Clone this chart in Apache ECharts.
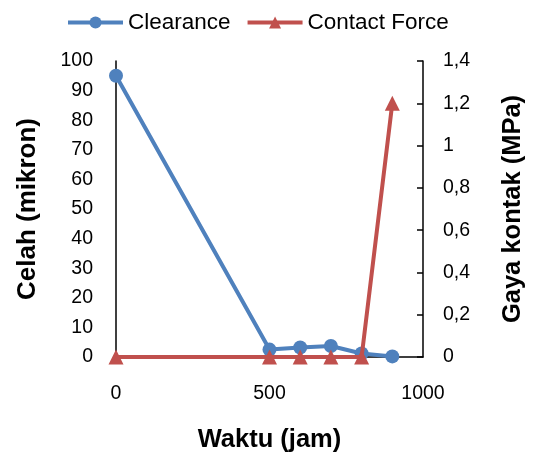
<!DOCTYPE html>
<html>
<head>
<meta charset="utf-8">
<script src="https://cdn.jsdelivr.net/npm/echarts@6/dist/echarts.min.js"></script>
<style>
  html, body { margin: 0; padding: 0; background: #fff; }
  #chart { width: 536px; height: 454px; }
</style>
</head>
<body>
<div id="chart"></div>
<script>
// Data
const hours = [0, 500, 600, 700, 800, 900];
const clearance = [95, 2.5, 3.2, 3.7, 1.2, 0.2];
const contactForce = [0, 0, 0, 0, 0, 1.2];

const font = '"Liberation Sans", Arial, sans-serif';
const blue = '#4f81bd';
const red = '#c0504d';

const chart = echarts.init(document.getElementById('chart'));

chart.setOption({
  animation: false,
  textStyle: { fontFamily: font },
  legend: {
    top: 6,
    left: 61,
    itemWidth: 55,
    itemHeight: 15,
    itemGap: 15,
    lineStyle: { width: 4 },
    textStyle: { fontSize: 22.5, color: '#000', fontFamily: font },
    data: ['Clearance', 'Contact Force']
  },
  // keep the plot box fixed, even if names spill near the edge
  grid: { left: 116, right: 113, top: 61, bottom: 97, outerBoundsMode: 'none', containLabel: false },
  xAxis: {
    type: 'value',
    min: 0,
    max: 1000,
    interval: 500,
    name: 'Waktu (jam)',
    nameLocation: 'middle',
    nameGap: 70,
    nameTextStyle: { fontSize: 25.5, fontWeight: 'bold', color: '#000', fontFamily: font },
    axisLine: { lineStyle: { color: '#000', width: 1.5 } },
    axisTick: { show: false },
    axisLabel: { fontSize: 19.5, color: '#000', margin: 27, fontFamily: font, formatter: v => String(v) },
    splitLine: { show: false }
  },
  yAxis: [
    {
      type: 'value',
      min: 0,
      max: 100,
      interval: 10,
      name: 'Celah (mikron)',
      nameLocation: 'middle',
      nameGap: 75,
      nameTextStyle: { fontSize: 26, fontWeight: 'bold', color: '#000', fontFamily: font },
      axisLine: { show: true, lineStyle: { color: '#000', width: 1.5 } },
      axisTick: { show: false },
      axisLabel: { fontSize: 19.5, color: '#000', margin: 23, fontFamily: font },
      splitLine: { show: false }
    },
    {
      type: 'value',
      min: 0,
      max: 1.4,
      interval: 0.2,
      position: 'right',
      name: 'Gaya kontak (MPa)',
      nameLocation: 'middle',
      nameGap: 77,
      nameRotate: 90,
      nameTextStyle: { fontSize: 25.5, fontWeight: 'bold', color: '#000', fontFamily: font },
      axisLine: { show: true, lineStyle: { color: '#000', width: 1.5 } },
      axisTick: { show: true, inside: true, length: 6, lineStyle: { color: '#000', width: 1.5 } },
      axisLabel: {
        fontSize: 19.5,
        color: '#000',
        margin: 20,
        fontFamily: font,
        formatter: v => String(Math.round(v * 10) / 10).replace('.', ',')
      },
      splitLine: { show: false }
    }
  ],
  series: [
    {
      name: 'Clearance',
      type: 'line',
      yAxisIndex: 0,
      data: hours.map((h, i) => [h, clearance[i]]),
      symbol: 'circle',
      symbolSize: 14,
      lineStyle: { color: blue, width: 4 },
      itemStyle: { color: blue },
      z: 2
    },
    {
      name: 'Contact Force',
      type: 'line',
      yAxisIndex: 1,
      data: hours.map((h, i) => [h, contactForce[i]]),
      symbol: 'triangle',
      symbolSize: 15,
      lineStyle: { color: red, width: 4 },
      itemStyle: { color: red },
      z: 3
    }
  ]
});
</script>
</body>
</html>
